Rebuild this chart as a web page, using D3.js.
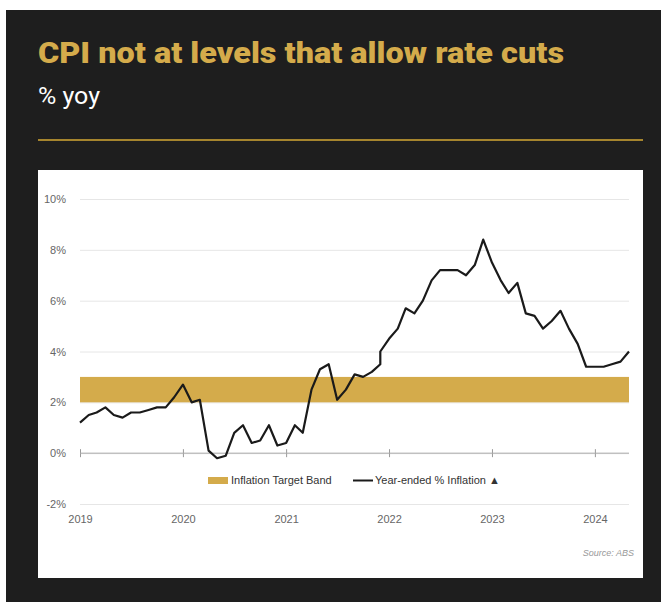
<!DOCTYPE html>
<html lang="en">
<head>
<meta charset="utf-8">
<title>CPI not at levels that allow rate cuts</title>
<style>
  body { margin: 0; background: #fff; }
  .axis text { font-family: "Liberation Sans", Arial, sans-serif; font-size: 11px; fill: #666; }
  .grid line { stroke: #e6e6e6; }
  .grid .domain, .xlab .domain, .zero .domain { display: none; }
</style>
</head>
<body>
<script src="https://cdn.jsdelivr.net/npm/d3@7"></script>
<script>
// monthly CPI indicator, % yoy (Dec 2021 appears twice: the series jumps there)
const months = [
  "2019-01","2019-02","2019-03","2019-04","2019-05","2019-06","2019-07","2019-08","2019-09","2019-10","2019-11","2019-12",
  "2020-01","2020-02","2020-03","2020-04","2020-05","2020-06","2020-07","2020-08","2020-09","2020-10","2020-11","2020-12",
  "2021-01","2021-02","2021-03","2021-04","2021-05","2021-06","2021-07","2021-08","2021-09","2021-10","2021-11","2021-12","2021-12",
  "2022-01","2022-02","2022-03","2022-04","2022-05","2022-06","2022-07","2022-08","2022-09","2022-10","2022-11","2022-12",
  "2023-01","2023-02","2023-03","2023-04","2023-05","2023-06","2023-07","2023-08","2023-09","2023-10","2023-11","2023-12",
  "2024-01","2024-02","2024-03","2024-04","2024-05"
];
const inflation = [
  1.2, 1.5, 1.6, 1.8, 1.5, 1.4, 1.6, 1.6, 1.7, 1.8, 1.8, 2.2,
  2.7, 2.0, 2.1, 0.1, -0.2, -0.1, 0.8, 1.1, 0.4, 0.5, 1.1, 0.3,
  0.4, 1.1, 0.8, 2.5, 3.3, 3.5, 2.1, 2.5, 3.1, 3.0, 3.2, 3.5, 4.0,
  4.5, 4.9, 5.7, 5.5, 6.0, 6.8, 7.2, 7.2, 7.2, 7.0, 7.4, 8.4,
  7.5, 6.8, 6.3, 6.7, 5.5, 5.4, 4.9, 5.2, 5.6, 4.9, 4.3, 3.4,
  3.4, 3.4, 3.5, 3.6, 4.0
];
const targetBand = [2, 3];
const yTicks = [-2, 0, 2, 4, 6, 8, 10];
const legendLabels = ["Inflation Target Band", "Year-ended % Inflation \u25B2"];

const W = 667, H = 602;
const gold = "#d4ab4b";
const parse = d3.timeParse("%Y-%m");
const data = months.map((m, i) => ({ date: parse(m), value: inflation[i] }));

const svg = d3.select("body").append("svg")
    .attr("width", W).attr("height", H);

// dark panel + header
svg.append("rect").attr("x", 6).attr("y", 10).attr("width", 655).attr("height", 592).attr("fill", "#1e1e1e");
svg.append("text")
    .attr("x", 38).attr("y", 63)
    .attr("textLength", 526).attr("lengthAdjust", "spacingAndGlyphs")
    .attr("fill", gold)
    .style("font", "900 29px Roboto, 'Liberation Sans', sans-serif")
    .text("CPI not at levels that allow rate cuts");
svg.append("text")
    .attr("x", 38).attr("y", 104)
    .attr("textLength", 62).attr("lengthAdjust", "spacingAndGlyphs")
    .attr("fill", "#fff")
    .style("font", "400 23px Roboto, 'Liberation Sans', sans-serif")
    .text("% yoy");
svg.append("line")
    .attr("x1", 38).attr("x2", 643).attr("y1", 140).attr("y2", 140)
    .attr("stroke", "#d4a935").attr("stroke-width", 1.5);

// white chart card
svg.append("rect").attr("x", 38).attr("y", 170).attr("width", 605).attr("height", 408).attr("fill", "#fff");

const x = d3.scaleTime()
    .domain([parse("2019-01"), parse("2024-05")])
    .range([80, 629]);
const y = d3.scaleLinear()
    .domain([-2, 10])
    .range([504, 199]);

// gridlines + y labels
const yAxis = d3.axisLeft(y)
    .tickValues(yTicks)
    .tickFormat(d => d + "%")
    .tickSize(-(629 - 80))
    .tickPadding(14);
svg.append("g")
    .attr("class", "axis grid")
    .attr("transform", "translate(80,0)")
    .call(yAxis);

// target band
svg.append("rect")
    .attr("x", x.range()[0])
    .attr("width", x.range()[1] - x.range()[0])
    .attr("y", y(targetBand[1]))
    .attr("height", y(targetBand[0]) - y(targetBand[1]))
    .attr("fill", gold);

// zero axis line with year ticks
const zero = svg.append("g")
    .attr("class", "axis zero")
    .attr("transform", `translate(0,${y(0)})`)
    .call(d3.axisBottom(x).ticks(d3.timeYear.every(1)).tickFormat("").tickSize(0));
zero.selectAll(".tick line").attr("y1", -4).attr("y2", 4).attr("stroke", "#999");
zero.append("line")
    .attr("x1", x.range()[0]).attr("x2", x.range()[1])
    .attr("stroke", "#aaa");

// year labels along the bottom
svg.append("g")
    .attr("class", "axis xlab")
    .attr("transform", `translate(0,${y(-2)})`)
    .call(d3.axisBottom(x).ticks(d3.timeYear.every(1)).tickFormat(d3.timeFormat("%Y")).tickSize(0).tickPadding(11));

// inflation line
svg.append("path")
    .datum(data)
    .attr("fill", "none")
    .attr("stroke", "#1a1a1a")
    .attr("stroke-width", 2.2)
    .attr("stroke-linejoin", "round")
    .attr("d", d3.line().x(d => x(d.date)).y(d => y(d.value)));

// legend
const legend = svg.append("g").style("font", "11px 'Liberation Sans', Arial, sans-serif");
legend.append("rect").attr("x", 208).attr("y", 477).attr("width", 20).attr("height", 7).attr("fill", gold);
legend.append("text").attr("x", 231).attr("y", 484).attr("fill", "#333").text(legendLabels[0]);
legend.append("line").attr("x1", 353).attr("x2", 373).attr("y1", 480.5).attr("y2", 480.5)
    .attr("stroke", "#1a1a1a").attr("stroke-width", 2);
legend.append("text").attr("x", 375).attr("y", 484).attr("fill", "#333").text(legendLabels[1]);

// source
svg.append("text")
    .attr("x", 634).attr("y", 556)
    .attr("text-anchor", "end")
    .attr("fill", "#999")
    .style("font", "italic 9px 'Liberation Sans', Arial, sans-serif")
    .text("Source: ABS");
</script>
</body>
</html>
